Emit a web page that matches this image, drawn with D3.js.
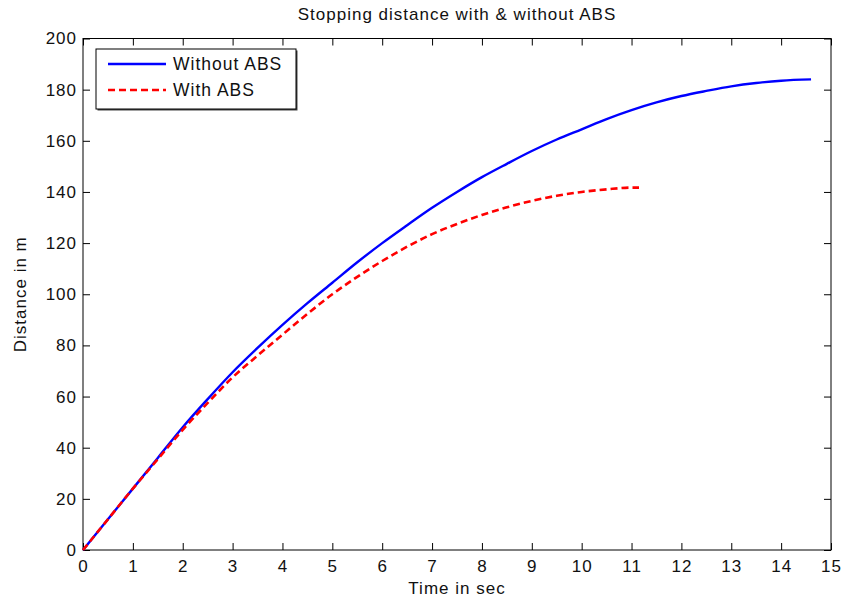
<!DOCTYPE html>
<html>
<head>
<meta charset="utf-8">
<script src="https://cdn.jsdelivr.net/npm/d3@7"></script>
<style>
  body { margin: 0; background: #fff; }
  text { font-family: "Liberation Sans", Arial, sans-serif; fill: #111; letter-spacing: 1px; }
</style>
</head>
<body>
<div id="chart"></div>
<script>
// data
var tNoAbs = [0, 0.5, 1, 1.5, 2, 2.5, 3, 3.5, 4, 4.5, 5, 5.5, 6, 6.5, 7, 7.5, 8, 8.5, 9, 9.5, 10, 10.5, 11, 11.5, 12, 12.5, 13, 13.5, 14, 14.6];
var dNoAbs = [0, 12, 24, 36, 48, 59, 69.5, 79, 88, 96.5, 104.5, 112.5, 120, 127, 133.8, 140, 145.8, 151, 156, 160.5, 164.5, 168.5, 172, 175, 177.5, 179.5, 181.3, 182.6, 183.5, 184];
var tAbs = [0, 0.5, 1, 1.5, 2, 2.5, 3, 3.5, 4, 4.5, 5, 5.5, 6, 6.5, 7, 7.5, 8, 8.5, 9, 9.5, 10, 10.5, 11, 11.15];
var dAbs = [0, 12, 24, 35.5, 47, 57.5, 67.5, 76, 84.2, 92.3, 100, 106.8, 113, 118.6, 123.5, 127.5, 131, 134, 136.5, 138.5, 140, 141, 141.7, 141.7];
var xTicks = d3.range(0, 16);
var yTicks = d3.range(0, 201, 20);
var seriesNames = ["Without ABS", "With ABS"];

var W = 843, H = 598;
var margin = {top: 38.5, right: 12, bottom: 48, left: 83};
var width = W - margin.left - margin.right,
    height = H - margin.top - margin.bottom;

var svg = d3.select("#chart").append("svg")
    .attr("width", W).attr("height", H);

var g = svg.append("g")
    .attr("transform", "translate(" + margin.left + "," + margin.top + ")");

var x = d3.scaleLinear().domain([0, 15]).range([0, width]);
var y = d3.scaleLinear().domain([0, 200]).range([height, 0]);

// axes with inward ticks, matlab style
function styleAxis(sel) {
  sel.select(".domain").remove();
  sel.selectAll("line").attr("stroke", "#000").attr("stroke-width", 1);
  sel.selectAll("text").style("font-size", "17px").attr("fill", "#111");
}

g.append("g")
  .attr("transform", "translate(0," + height + ")")
  .call(d3.axisBottom(x).tickValues(xTicks).tickSizeInner(-7).tickPadding(10))
  .call(styleAxis);

g.append("g")
  .call(d3.axisTop(x).tickValues(xTicks).tickSizeInner(-7).tickFormat(""))
  .call(styleAxis);

g.append("g")
  .call(d3.axisLeft(y).tickValues(yTicks).tickSizeInner(-7).tickPadding(6))
  .call(styleAxis);

g.append("g")
  .attr("transform", "translate(" + width + ",0)")
  .call(d3.axisRight(y).tickValues(yTicks).tickSizeInner(-7).tickFormat(""))
  .call(styleAxis);

// box
g.append("rect")
  .attr("width", width).attr("height", height)
  .attr("fill", "none").attr("stroke", "#000").attr("stroke-width", 1);

var line = d3.line()
  .x(function(d) { return x(d[0]); })
  .y(function(d) { return y(d[1]); })
  .curve(d3.curveMonotoneX);

g.append("path")
  .datum(d3.zip(tNoAbs, dNoAbs))
  .attr("fill", "none")
  .attr("stroke", "#0000ff")
  .attr("stroke-width", 2.4)
  .attr("d", line);

g.append("path")
  .datum(d3.zip(tAbs, dAbs))
  .attr("fill", "none")
  .attr("stroke", "#ff0000")
  .attr("stroke-width", 2.6)
  .attr("stroke-dasharray", "7,4")
  .attr("d", line);

// title and labels
svg.append("text")
  .attr("x", margin.left + width / 2).attr("y", 20)
  .attr("text-anchor", "middle")
  .style("font-size", "17px")
  .text("Stopping distance with & without ABS");

svg.append("text")
  .attr("x", margin.left + width / 2).attr("y", 594)
  .attr("text-anchor", "middle")
  .style("font-size", "17px")
  .text("Time in sec");

svg.append("text")
  .attr("transform", "translate(26," + (margin.top + height / 2) + ") rotate(-90)")
  .attr("text-anchor", "middle")
  .style("font-size", "17px")
  .text("Distance in m");

// legend
var leg = svg.append("g").attr("transform", "translate(96,49)");
leg.append("rect")
  .attr("x", 1.5).attr("y", 1.5).attr("width", 200).attr("height", 60)
  .attr("fill", "#444");
leg.append("rect")
  .attr("width", 200).attr("height", 60)
  .attr("fill", "#fff").attr("stroke", "#000").attr("stroke-width", 1);

var legStyles = [
  {color: "#0000ff", dash: null, w: 2.4},
  {color: "#ff0000", dash: "7,4", w: 2.6}
];
seriesNames.forEach(function(name, i) {
  var yy = 15 + i * 26;
  leg.append("line")
    .attr("x1", 12).attr("x2", 70).attr("y1", yy).attr("y2", yy)
    .attr("stroke", legStyles[i].color)
    .attr("stroke-width", legStyles[i].w)
    .attr("stroke-dasharray", legStyles[i].dash);
  leg.append("text")
    .attr("x", 77).attr("y", yy + 6)
    .style("font-size", "17.5px")
    .text(name);
});
</script>
</body>
</html>
